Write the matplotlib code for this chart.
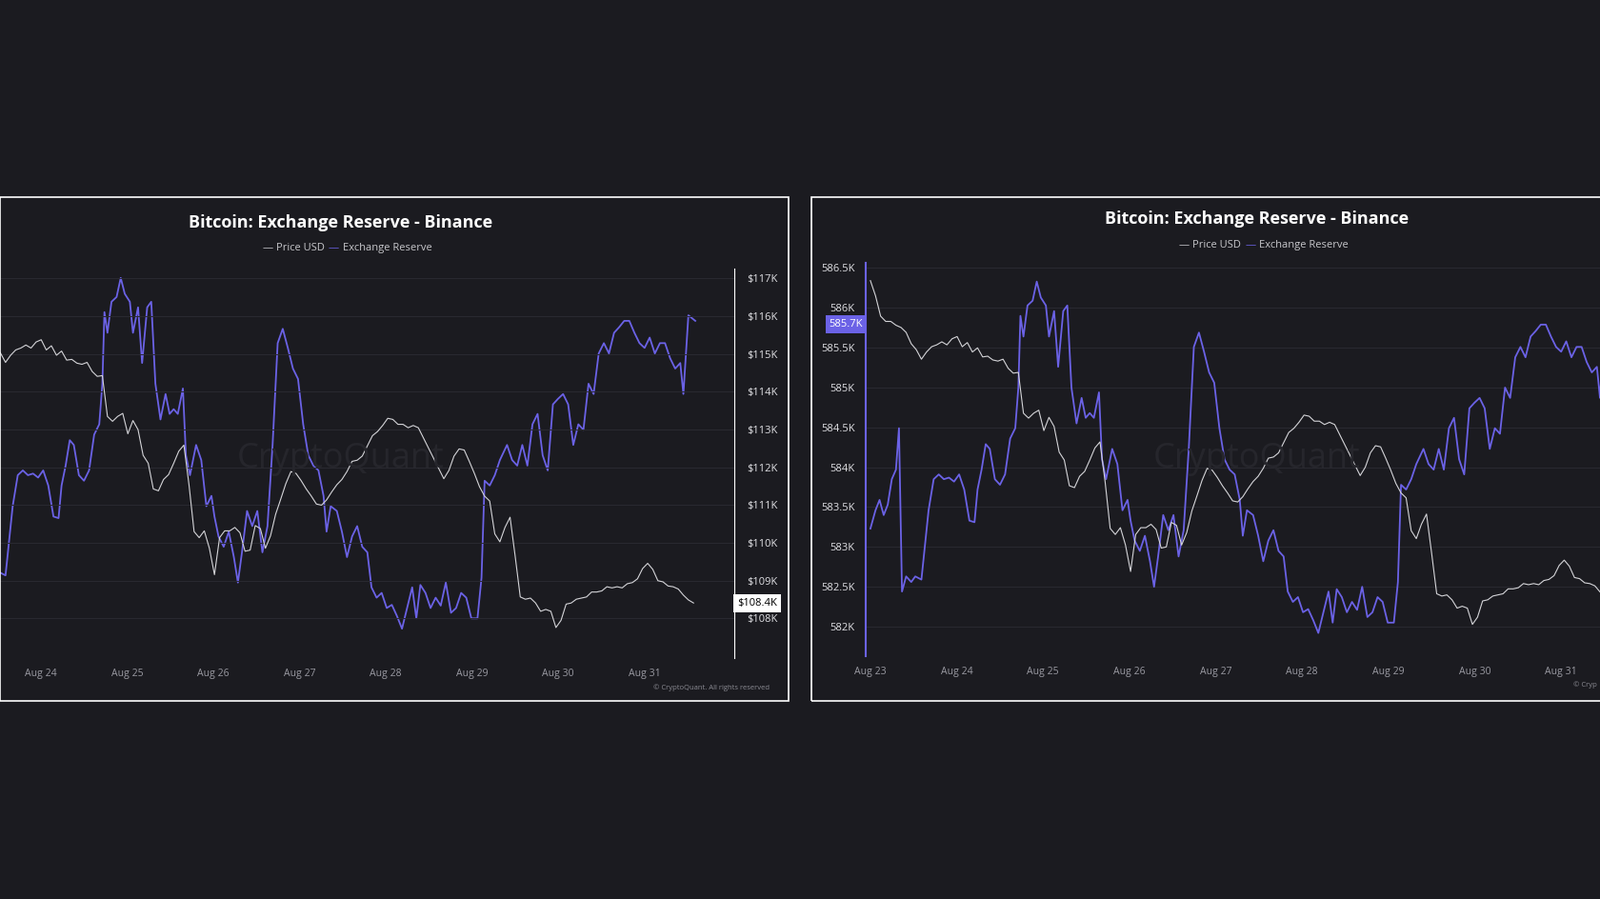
import matplotlib
matplotlib.use("Agg")
import matplotlib.pyplot as plt
import numpy as np
from matplotlib.patches import Rectangle

plt.rcParams["font.family"] = "Open Sans"

BG = "#1b1b20"
PURPLE = "#6b62e6"
PRICE_C = "#d4d4d8"
GRID = "#2a2a31"

# days since Aug 23 00:00
res_t = [0, .059, .106, .154, .201, .248, .296, .331, .366, .414, .473, .520, .591, .638, .674, .733,
         .792, .851, .910, .969, 1.028, 1.087, 1.147, 1.206, 1.241, 1.288, 1.336, 1.383, 1.442, 1.501,
         1.560, 1.619, 1.678, 1.714, 1.738, 1.773, 1.820, 1.879, 1.927, 1.974, 2.033, 2.069, 2.128,
         2.175, 2.234, 2.281, 2.329, 2.388, 2.447, 2.494, 2.541, 2.589, 2.648, 2.683, 2.730, 2.801,
         2.861, 2.920, 2.979, 3.014, 3.061, 3.121, 3.180, 3.239, 3.286, 3.333, 3.392, 3.452, 3.511,
         3.570, 3.629, 3.688, 3.747, 3.806, 3.865, 3.924, 3.983, 4.043, 4.102, 4.161, 4.220, 4.279,
         4.314, 4.362, 4.433, 4.492, 4.551, 4.610, 4.669, 4.728, 4.787, 4.835, 4.894, 4.953, 5.012,
         5.071, 5.130, 5.189, 5.248, 5.307, 5.355, 5.402, 5.461, 5.520, 5.579, 5.638, 5.697, 5.757,
         5.816, 5.875, 5.934, 5.993, 6.064, 6.111, 6.147, 6.206, 6.265, 6.324, 6.407, 6.466, 6.525,
         6.584, 6.643, 6.702, 6.761, 6.820, 6.879, 6.939, 6.998, 7.057, 7.116, 7.175, 7.234, 7.293,
         7.352, 7.411, 7.470, 7.530, 7.589, 7.648, 7.707, 7.766, 7.825, 7.884, 7.943, 8.002, 8.061,
         8.121, 8.180, 8.239, 8.298, 8.357, 8.416, 8.452, 8.510, 8.590]
# exchange reserve, thousand BTC
reserve_k = [583.23, 583.46, 583.59, 583.40, 583.53, 583.85, 583.97, 584.49, 582.44, 582.63, 582.56,
             582.63, 582.59, 583.08, 583.46, 583.85, 583.91, 583.85, 583.87, 583.82, 583.91, 583.72,
             583.33, 583.31, 583.72, 583.97, 584.29, 584.23, 583.85, 583.78, 583.91, 584.36, 584.49,
             585.00, 585.90, 585.64, 586.03, 586.09, 586.33, 586.13, 586.03, 585.64, 585.96, 585.26,
             585.96, 586.03, 585.00, 584.55, 584.87, 584.62, 584.68, 584.62, 584.94, 584.10, 583.85,
             584.23, 584.04, 583.46, 583.59, 583.33, 583.08, 582.95, 583.14, 582.82, 582.50, 582.88,
             583.40, 583.21, 583.40, 582.88, 583.21, 584.23, 585.51, 585.69, 585.45, 585.19, 585.06,
             584.49, 584.10, 583.97, 583.91, 583.59, 583.14, 583.46, 583.40, 583.14, 582.82, 583.08,
             583.21, 582.95, 582.88, 582.44, 582.31, 582.37, 582.18, 582.22, 582.08, 581.92, 582.18,
             582.44, 582.05, 582.47, 582.37, 582.18, 582.31, 582.21, 582.50, 582.12, 582.18, 582.37,
             582.31, 582.05, 582.05, 582.56, 583.78, 583.72, 583.85, 584.04, 584.23, 584.04, 583.97,
             584.23, 583.97, 584.49, 584.62, 584.10, 583.91, 584.74, 584.81, 584.87, 584.74, 584.23,
             584.49, 584.42, 585.00, 584.87, 585.38, 585.51, 585.38, 585.64, 585.71, 585.79, 585.79,
             585.64, 585.51, 585.45, 585.58, 585.38, 585.51, 585.51, 585.32, 585.19, 585.26, 584.87,
             585.86, 585.79]
# price, thousand USD, sampled every 1.42 h from Aug 23 00:00
price_k = [116.86, 116.46, 115.92, 115.78, 115.78, 115.68, 115.62, 115.49, 115.19, 115.03, 114.78,
           114.97, 115.11, 115.16, 115.24, 115.16, 115.32, 115.38, 115.11, 115.22, 114.97, 115.08,
           114.84, 114.86, 114.76, 114.73, 114.78, 114.54, 114.41, 114.43, 113.35, 113.22, 113.35,
           113.43, 112.89, 113.24, 113.00, 112.32, 112.11, 111.43, 111.38, 111.68, 111.81, 112.11,
           112.43, 112.59, 111.54, 110.30, 110.14, 110.32, 109.86, 109.16, 110.14, 110.32, 110.32,
           110.41, 110.27, 109.78, 109.81, 110.46, 110.38, 109.86, 110.19, 110.76, 111.16, 111.57,
           111.89, 111.84, 111.65, 111.43, 111.24, 111.03, 111.00, 111.14, 111.35, 111.54, 111.68,
           111.89, 112.16, 112.19, 112.30, 112.57, 112.84, 112.95, 113.11, 113.30, 113.27, 113.14,
           113.14, 113.05, 113.11, 113.05, 112.78, 112.51, 112.24, 111.97, 111.70, 111.92, 112.30,
           112.49, 112.46, 112.16, 111.84, 111.49, 111.24, 111.11, 110.24, 110.03, 110.41, 110.68,
           109.65, 108.57, 108.51, 108.54, 108.41, 108.19, 108.24, 108.19, 107.76, 107.95, 108.38,
           108.41, 108.51, 108.54, 108.57, 108.70, 108.70, 108.73, 108.84, 108.81, 108.84, 108.81,
           108.92, 108.95, 109.05, 109.32, 109.46, 109.30, 109.00, 108.97, 108.86, 108.84, 108.78,
           108.62, 108.49, 108.41]
price_t = np.arange(len(price_k)) * 5 / 84.6

date_labels = ["Aug 23", "Aug 24", "Aug 25", "Aug 26", "Aug 27", "Aug 28", "Aug 29", "Aug 30", "Aug 31"]
price_ticks = [108, 109, 110, 111, 112, 113, 114, 115, 116, 117]
reserve_ticks = [582, 582.5, 583, 583.5, 584, 584.5, 585, 585.5, 586, 586.5]

W, H = 1680, 944
fig = plt.figure(figsize=(W / 100, H / 100), dpi=100, facecolor=BG)
S = 1680 / 1568  # reference display scale


def fx(x):
    return x * S / W


def fy(y):
    return 1 - y * S / H


# panel frames
for x0, x1 in [(0, 772.5), (795.5, 1580)]:
    fig.patches.append(Rectangle((fx(x0), fy(687)), fx(x1) - fx(x0), fy(193) - fy(687),
                                 transform=fig.transFigure, fill=False, ec="white", lw=1.2))


def panel(pos, xlim, rlim, plim, cx, ty, ly):
    ax = fig.add_axes(pos)
    ax.set_facecolor("none")
    ax2 = ax.twinx()
    ax.plot(res_t, reserve_k, color=PURPLE, lw=1.3, zorder=3)
    ax2.plot(price_t, price_k, color=PRICE_C, lw=0.8, zorder=2)
    ax.set_ylim(*rlim)
    ax2.set_ylim(*plim)
    ax.set_xticks(range(9))
    ax.set_xticklabels(date_labels)
    ax.tick_params(axis="x", colors="#9a9aa2", labelsize=7.5, length=0, pad=8)
    for a in (ax, ax2):
        for s in a.spines.values():
            s.set_visible(False)
        a.set_autoscalex_on(False)
    ax.set_xlim(*xlim)
    ax2.set_xlim(*xlim)
    fig.text(fx(cx), fy(ty), "Bitcoin: Exchange Reserve - Binance", color="white",
             fontsize=13, fontweight="bold", ha="center", va="center")
    fig.text(fx(cx - 16), fy(ly), "— Price USD", color="#c8c8cc", fontsize=8, ha="right", va="center")
    fig.text(fx(cx - 12), fy(ly), "—", color=PURPLE, fontsize=8, ha="left", va="center")
    fig.text(fx(cx + 2), fy(ly), "Exchange Reserve", color="#c8c8cc", fontsize=8, ha="left", va="center")
    fig.text(fx(cx), fy(450), "CryptoQuant", color="#26262c", fontsize=26, ha="center", va="center", zorder=0)
    return ax, ax2


# left panel: price axis on the right
axL, axL2 = panel([0, fy(645), fx(720), fy(263) - fy(645)], (0.527, 9.047),
                  (581.55, 586.45), (106.95, 117.27), 334, 218, 243)
axL.set_yticks([])
axL2.set_yticks(price_ticks)
axL2.set_yticklabels([f"${v}K" for v in price_ticks])
axL2.tick_params(axis="y", colors="#e0e0e4", labelsize=8, length=0, pad=9)
axL2.grid(axis="y", color=GRID, lw=0.7)
axL2.spines["right"].set_visible(True)
axL2.spines["right"].set_color("white")
axL2.text(1.003, (108.4 - 106.95) / (117.27 - 106.95), "$108.4K", transform=axL2.transAxes,
          color="black", fontsize=8, va="center", ha="left",
          bbox=dict(boxstyle="square,pad=0.35", fc="white", ec="none"))
fig.text(fx(754), fy(674), "© CryptoQuant. All rights reserved", color="#8a8a92", fontsize=5.5,
         ha="right", va="center")

# right panel: reserve axis on the left
axR, axR2 = panel([fx(848), fy(643), 1 - fx(848), fy(258) - fy(643)], (-0.059, 8.452),
                  (581.63, 586.56), (106.92, 117.32), 1232, 215, 240)
axR2.set_yticks([])
axR.set_yticks(reserve_ticks)
axR.set_yticklabels([f"{v:g}K" for v in reserve_ticks])
axR.tick_params(axis="y", colors="#e0e0e4", labelsize=8, length=0, pad=8)
axR.grid(axis="y", color=GRID, lw=0.7)
axR.spines["left"].set_visible(True)
axR.spines["left"].set_color(PURPLE)
axR.spines["left"].set_linewidth(1.5)
axR.text(-0.003, (585.79 - 581.63) / (586.56 - 581.63), "585.7K", transform=axR.transAxes,
         color="white", fontsize=8, va="center", ha="right",
         bbox=dict(boxstyle="square,pad=0.35", fc=PURPLE, ec="none"))
fig.text(fx(1542), fy(671), "© Cryp", color="#8a8a92", fontsize=5.5, ha="left", va="center")

fig.savefig("out.png", dpi=100, facecolor=BG)
